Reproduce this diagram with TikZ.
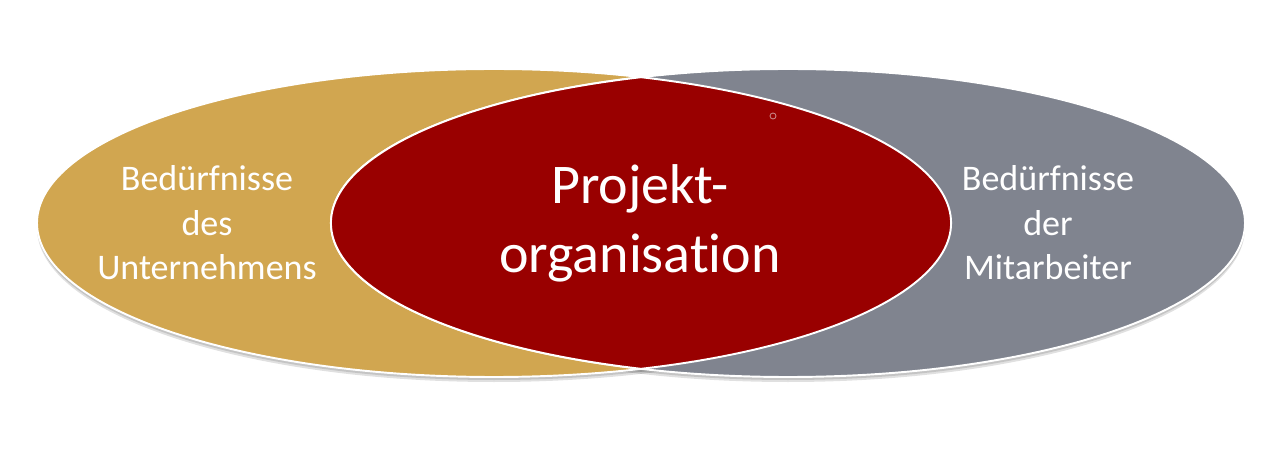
\documentclass[tikz,border=0pt]{standalone}
\usepackage{fontspec}
\setmainfont{Carlito}[Ligatures=NoCommon]
\definecolor{needsgold}{RGB}{209,166,80}
\definecolor{needsgray}{RGB}{128,132,143}
\definecolor{projred}{RGB}{153,0,0}
\begin{document}
\begin{tikzpicture}[x=0.02cm,y=0.02cm,
    needs/.style={draw=white,line width=1.1pt},
    needsshadow/.style={fill=black,opacity=0.12},
    needstext/.style={text=white,align=center,font=\fontsize{20.5}{25.3}\selectfont},
    projtext/.style={text=white,align=center,font=\fontsize{31.9}{39.3}\selectfont}]
  \useasboundingbox (0,0) rectangle (1280,470);
  \fill[white] (0,0) rectangle (1280,470);
  % shadows first, so they stay under both ellipses
  \foreach \dy in {3,5}{
    \fill[needsshadow] (494,247-\dy) ellipse [x radius=457,y radius=154];
    \fill[needsshadow] (788,247-\dy) ellipse [x radius=457,y radius=154];
  }
  \draw[needs,fill=needsgold] (494,247) ellipse [x radius=457,y radius=154];
  \draw[needs,fill=needsgray] (788,247) ellipse [x radius=457,y radius=154];
  \draw[draw=white,line width=1.1pt,fill=projred]
    (641,392.8) arc[start angle=108.77,end angle=251.23,x radius=457,y radius=154]
    arc[start angle=-71.23,end angle=71.23,x radius=457,y radius=154] -- cycle;
  \draw[draw={rgb,255:red,200;green,130;blue,130},line width=0.5pt] (773,354) circle [radius=3];
  \draw
    (207,247) node[needstext] (unternehmen) {Bedürfnisse\\des\\Unternehmens}
    (1048,247) node[needstext] (mitarbeiter) {Bedürfnisse\\der\\Mitarbeiter}
    (640,247) node[projtext] (projekt) {Projekt-\\organisation};
\end{tikzpicture}
\end{document}
